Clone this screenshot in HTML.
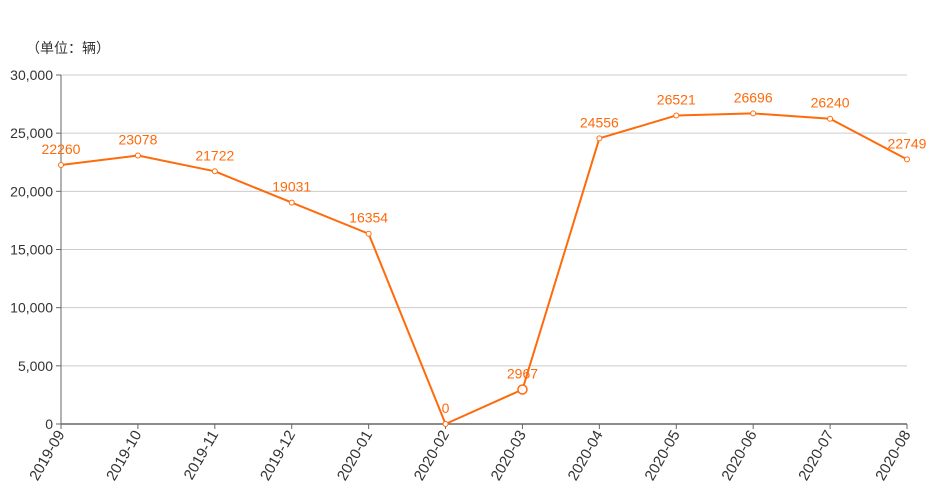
<!DOCTYPE html>
<html><head><meta charset="utf-8">
<style>
html,body{margin:0;padding:0;background:#fff;}
svg{display:block;font-family:"Liberation Sans","Noto Sans CJK SC",sans-serif;}
</style></head>
<body>
<svg id="chart" width="945" height="500" viewBox="0 0 945 500">
<text x="26" y="53" font-size="14" fill="#333">（单位：辆）</text>
<g id="grid"></g><g id="axes"></g><g id="series"></g>
</svg>
<script>
const categories = ["2019-09","2019-10","2019-11","2019-12","2020-01","2020-02","2020-03","2020-04","2020-05","2020-06","2020-07","2020-08"];
const values = [22260,23078,21722,19031,16354,0,2967,24556,26521,26696,26240,22749];
const yTicks = [0,5000,10000,15000,20000,25000,30000];
const yTickLabels = ["0","5,000","10,000","15,000","20,000","25,000","30,000"];
const NS="http://www.w3.org/2000/svg";
const L=61,R=907,T=75,B=424,YMAX=30000;
const xs=i=>L+(R-L)*i/(categories.length-1);
const ys=v=>B-(B-T)*v/YMAX;
function mk(tag,attrs,parent){const e=document.createElementNS(NS,tag);for(const k in attrs)e.setAttribute(k,attrs[k]);parent.appendChild(e);return e;}
const grid=document.getElementById('grid'),axes=document.getElementById('axes'),ser=document.getElementById('series');
yTicks.forEach((t,i)=>{
  const y=ys(t);
  if(t>0){const g=mk('line',{x1:L,x2:R,y1:y,y2:y,stroke:'#ccc','stroke-width':1},grid);
  
  }
  const tk=mk('line',{x1:L-5,x2:L,y1:y,y2:y,stroke:'#666'},axes);
  
  
  const tx=mk('text',{x:L-8,y:y+5,'text-anchor':'end','font-size':14,fill:'#333'},axes);
  tx.textContent=yTickLabels[i];
  
  
});
const ya=mk('line',{x1:L,x2:L,y1:T,y2:B,stroke:'#666','stroke-width':1},axes);


const xa=mk('line',{x1:L,x2:R,y1:B,y2:B,stroke:'#666','stroke-width':1.5},axes);


categories.forEach((c,i)=>{
  const x=xs(i);
  const tk=mk('line',{x1:x,x2:x,y1:B,y2:B+5,stroke:'#666'},axes);
  
  
  const tx=mk('text',{x:0,y:0,'text-anchor':'end','font-size':15,fill:'#333',transform:`translate(${x+4},${B+10}) rotate(-60)`},axes);
  tx.textContent=c;
  
  
});
const pts=values.map((v,i)=>xs(i)+','+ys(v)).join(' ');
const pl=mk('polyline',{points:pts,fill:'none',stroke:'#ff6a0a','stroke-width':2,'stroke-linejoin':'round'},ser);


values.forEach((v,i)=>{
  const big=i===6;
  const c=mk('circle',{cx:xs(i),cy:ys(v),r:big?4.5:2.5,fill:'#fff',stroke:'#ff6a0a','stroke-width':big?1.5:1},ser);
  
  
  const t=mk('text',{x:xs(i),y:ys(v)-11,'text-anchor':'middle','font-size':14,fill:'#ff6a0a'},ser);
  t.textContent=String(v);
  
  
});
</script>
</body></html>
